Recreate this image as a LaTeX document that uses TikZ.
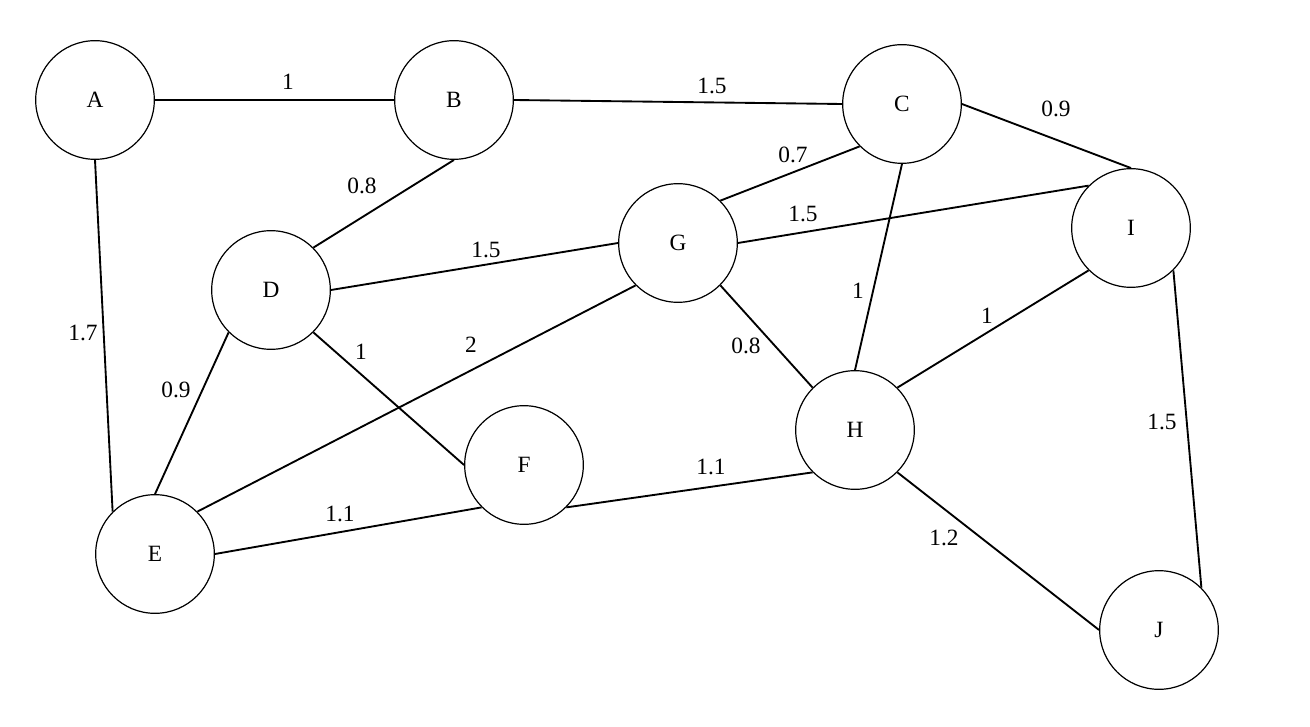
\documentclass[tikz,border=0pt]{standalone}
\usepackage{fontspec}
\setmainfont{Liberation Serif}
\usepackage{tikz}

\begin{document}
\begin{tikzpicture}[
  x=0.75pt, y=-0.75pt,
  font=\fontsize{17.5}{21}\selectfont,
  vtx/.style={draw, circle, line width=0.9pt, minimum size=89pt, inner sep=0pt},
  wt/.style={inner sep=0pt},
  ed/.style={line width=1.4pt}
]
\useasboundingbox (0,0) rectangle (1310,727);
\node[vtx] (A) at (95,100) {A};
\node[vtx] (B) at (454,100) {B};
\node[vtx] (C) at (902,104) {C};
\node[vtx] (D) at (271,290) {D};
\node[vtx] (E) at (155,554) {E};
\node[vtx] (F) at (524,465) {F};
\node[vtx] (G) at (678,243) {G};
\node[vtx] (H) at (855,430) {H};
\node[vtx] (I) at (1131,228) {I};
\node[vtx] (J) at (1159,630) {J};
% weights
\node[wt] (wAB) at (288,82) {1};
\node[wt] (wBC) at (712,86) {1.5};
\node[wt] (wCI) at (1056,109) {0.9};
\node[wt] (wBD) at (362,186) {0.8};
\node[wt] (wCG) at (793,155) {0.7};
\node[wt] (wGI) at (803,214) {1.5};
\node[wt] (wDG) at (486,250) {1.5};
\node[wt] (wAE) at (83,333) {1.7};
\node[wt] (wDE) at (176,390) {0.9};
\node[wt] (wDF) at (361,352) {1};
\node[wt] (wEG) at (471,345) {2};
\node[wt] (wCH) at (858,291) {1};
\node[wt] (wGH) at (746,346) {0.8};
\node[wt] (wHI) at (987,316) {1};
\node[wt] (wIJ) at (1162,422) {1.5};
\node[wt] (wEF) at (340,514) {1.1};
\node[wt] (wFH) at (711,467) {1.1};
\node[wt] (wHJ) at (944,538) {1.2};
% edges
\draw[ed] (A.east) -- (B.west);
\draw[ed] (B.east) -- (C.west);
\draw[ed] (C.east) -- (I.north);
\draw[ed] (B.south) -- (D.45);
\draw[ed] (C.225) -- (G.45);
\draw[ed] (G.east) -- (I.135);
\draw[ed] (D.east) -- (G.west);
\draw[ed] (A.south) -- (E.135);
\draw[ed] (D.225) -- (E.north);
\draw[ed] (D.315) -- (F.west);
\draw[ed] (E.45) -- (G.225);
\draw[ed] (E.east) -- (F.225);
\draw[ed] (F.315) -- (H.225);
\draw[ed] (C.south) -- (H.north);
\draw[ed] (G.315) -- (H.135);
\draw[ed] (H.45) -- (I.225);
\draw[ed] (H.315) -- (J.west);
\draw[ed] (I.315) -- (J.45);
\end{tikzpicture}
\end{document}
